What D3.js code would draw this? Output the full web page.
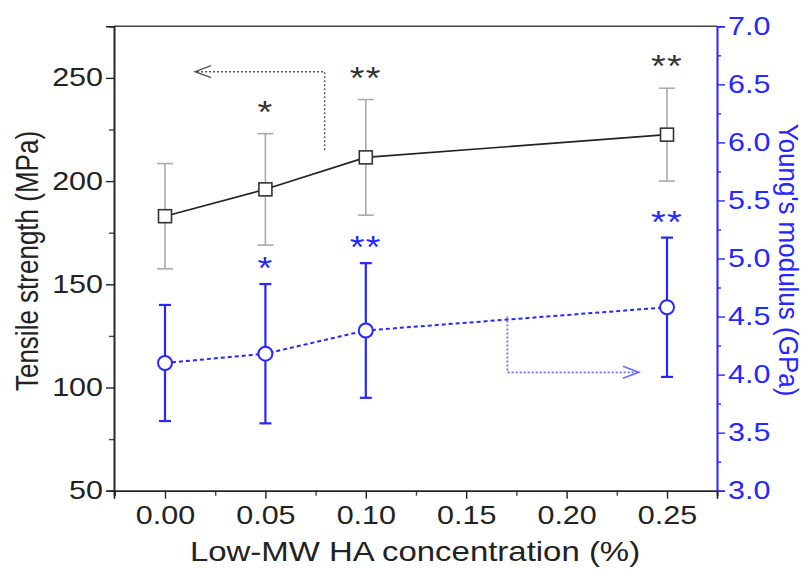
<!DOCTYPE html>
<html lang="en">
<head>
    <meta charset="UTF-8">
    <title>Tensile strength and Young's modulus</title>
    <script src="https://d3js.org/d3.v7.min.js"></script>
    <style>
        body { margin: 0; background: #fff; font-family: "Liberation Sans", Arial, sans-serif; }
        svg text { font-family: "Liberation Sans", Arial, sans-serif; }
    </style>
</head>
<body>
<div id="chart"></div>
<script>
    // data
    const conc = [0.00, 0.05, 0.10, 0.25];
    const strength = [183, 196, 211.5, 222.5];
    const strengthErr = [25.5, 27, 28, 22.5];
    const modulus = [4.10, 4.18, 4.38, 4.58];
    const modulusErr = [0.50, 0.60, 0.58, 0.60];
    const strengthStars = ["", "*", "**", "**"];
    const modulusStars = ["", "*", "**", "**"];

    const xTicks = [0.00, 0.05, 0.10, 0.15, 0.20, 0.25];
    const yTicks = [50, 100, 150, 200, 250];
    const y2Ticks = [3.0, 3.5, 4.0, 4.5, 5.0, 5.5, 6.0, 6.5, 7.0];

    const W = 803, H = 569;
    const blue = "#2626ff";
    const SX = 1.22; // the original text is a little wider than it is tall

    const svg = d3.select("#chart").append("svg")
        .attr("width", W).attr("height", H);

    // scales
    const x = d3.scaleLinear().domain([-0.0254, 0.2749]).range([114, 717]);
    const y = d3.scaleLinear().domain([50, 275]).range([490.7, 26.3]);
    const y2 = d3.scaleLinear().domain([3, 7]).range([490.7, 26.3]);

    function styleAxis(g, color, fs) {
        g.selectAll("path").attr("stroke", color).attr("stroke-width", 1.6);
        g.selectAll("line").attr("stroke", color).attr("stroke-width", 1.4);
        g.selectAll("text").attr("fill", color).style("font-size", fs + "px")
            .attr("x", function() { return (+this.getAttribute("x") || 0) / SX; })
            .attr("transform", `scale(${SX},1)`);
    }

    // top frame line
    svg.append("line")
        .attr("x1", 114).attr("x2", 717).attr("y1", y.range()[1]).attr("y2", y.range()[1])
        .attr("stroke", "#444").attr("stroke-width", 1.6);

    // axes (minor + major)
    const gx = svg.append("g").attr("transform", `translate(0,${y.range()[0]})`);
    gx.append("g").call(d3.axisBottom(x).tickValues(d3.range(-0.025, 0.28, 0.05)).tickSize(5).tickFormat(""))
        .call(g => styleAxis(g, "#444", 20));
    gx.append("g").call(d3.axisBottom(x).tickValues(xTicks).tickSize(8).tickPadding(8).tickFormat(d3.format(".2f")))
        .call(g => styleAxis(g, "#222", 25));

    const gy = svg.append("g").attr("transform", `translate(114,0)`);
    gy.append("g").call(d3.axisLeft(y).tickValues([75, 125, 175, 225, 275]).tickSize(5).tickFormat(""))
        .call(g => styleAxis(g, "#444", 20));
    gy.append("g").call(d3.axisLeft(y).tickValues(yTicks).tickSize(8).tickPadding(3).tickFormat(d3.format("d")))
        .call(g => styleAxis(g, "#222", 25));

    const gy2 = svg.append("g").attr("transform", `translate(717,0)`);
    gy2.append("g").call(d3.axisRight(y2).tickValues(d3.range(3.25, 7, 0.5)).tickSize(4).tickFormat(""))
        .call(g => styleAxis(g, blue, 20));
    gy2.append("g").call(d3.axisRight(y2).tickValues(y2Ticks).tickSize(8).tickPadding(3).tickFormat(d3.format(".1f")))
        .call(g => styleAxis(g, blue, 25));

    // axis titles
    svg.append("text")
        .attr("transform", `translate(415,561) scale(${SX},1)`).attr("text-anchor", "middle")
        .style("font-size", "27px").attr("fill", "#222")
        .text("Low-MW HA concentration (%)");
    svg.append("text")
        .attr("transform", `translate(38,261) scale(${SX},1) rotate(-90)`).attr("text-anchor", "middle")
        .style("font-size", "26px").attr("fill", "#222")
        .text("Tensile strength (MPa)");
    svg.append("text")
        .attr("transform", `translate(779,260) scale(1.05,1) rotate(90)`).attr("text-anchor", "middle")
        .style("font-size", "26px").attr("fill", blue)
        .text("Young's modulus (GPa)");

    // black series: tensile strength
    const sIdx = d3.range(conc.length);
    const capB = 8;
    const errB = svg.append("g").attr("stroke", "#aaa").attr("stroke-width", 1.6);
    sIdx.forEach(i => {
        const cx = x(conc[i]);
        const yt = y(strength[i] + strengthErr[i]), yb = y(strength[i] - strengthErr[i]);
        errB.append("line").attr("x1", cx).attr("x2", cx).attr("y1", yt).attr("y2", yb);
        errB.append("line").attr("x1", cx - capB).attr("x2", cx + capB).attr("y1", yt).attr("y2", yt);
        errB.append("line").attr("x1", cx - capB).attr("x2", cx + capB).attr("y1", yb).attr("y2", yb);
    });
    svg.append("path")
        .datum(sIdx)
        .attr("fill", "none").attr("stroke", "#222").attr("stroke-width", 1.6)
        .attr("d", d3.line().x(i => x(conc[i])).y(i => y(strength[i])));
    svg.selectAll("rect.sq").data(sIdx).enter().append("rect")
        .attr("class", "sq")
        .attr("x", i => x(conc[i]) - 6.5).attr("y", i => y(strength[i]) - 6.5)
        .attr("width", 13).attr("height", 13)
        .attr("fill", "#fff").attr("stroke", "#333").attr("stroke-width", 1.6);

    // blue series: Young's modulus
    const capU = 6;
    const errU = svg.append("g").attr("stroke", blue).attr("stroke-width", 2.2);
    sIdx.forEach(i => {
        const cx = x(conc[i]);
        const yt = y2(modulus[i] + modulusErr[i]), yb = y2(modulus[i] - modulusErr[i]);
        errU.append("line").attr("x1", cx).attr("x2", cx).attr("y1", yt).attr("y2", yb);
        errU.append("line").attr("x1", cx - capU).attr("x2", cx + capU).attr("y1", yt).attr("y2", yt);
        errU.append("line").attr("x1", cx - capU).attr("x2", cx + capU).attr("y1", yb).attr("y2", yb);
    });
    svg.append("path")
        .datum(sIdx)
        .attr("fill", "none").attr("stroke", blue).attr("stroke-width", 2)
        .attr("stroke-dasharray", "4,3")
        .attr("d", d3.line().x(i => x(conc[i])).y(i => y2(modulus[i])));
    svg.selectAll("circle.ci").data(sIdx).enter().append("circle")
        .attr("class", "ci")
        .attr("cx", i => x(conc[i])).attr("cy", i => y2(modulus[i]))
        .attr("r", 7)
        .attr("fill", "#fff").attr("stroke", blue).attr("stroke-width", 2);

    // significance stars
    svg.selectAll("text.sb").data(sIdx).enter().append("text")
        .attr("class", "sb")
        .attr("transform", i => `translate(${x(conc[i])},${y(strength[i] + strengthErr[i]) - 11}) scale(${SX},1)`)
        .attr("text-anchor", "middle").style("font-size", "31px").attr("fill", "#333")
        .style("letter-spacing", "1px")
        .text(i => strengthStars[i]);
    svg.selectAll("text.su").data(sIdx).enter().append("text")
        .attr("class", "su")
        .attr("transform", i => `translate(${x(conc[i])},${y2(modulus[i] + modulusErr[i]) - 5}) scale(${SX},1)`)
        .attr("text-anchor", "middle").style("font-size", "31px").attr("fill", blue)
        .style("letter-spacing", "1px")
        .text(i => modulusStars[i]);

    // dotted axis-pointer arrows
    const arrowB = [[0.0795, 215], [0.0795, 253], [0.015, 253]];
    const arrowU = [[0.1705, 4.5], [0.1705, 4.02], [0.236, 4.02]];
    svg.append("path")
        .attr("fill", "none").attr("stroke", "#555").attr("stroke-width", 1.4)
        .attr("stroke-dasharray", "2,2")
        .attr("d", d3.line()(arrowB.map(p => [x(p[0]), y(p[1])])));
    const ab = [x(arrowB[2][0]), y(arrowB[2][1])];
    svg.append("path")
        .attr("fill", "none").attr("stroke", "#555").attr("stroke-width", 1.4)
        .attr("d", `M${ab[0] + 16},${ab[1] - 6}L${ab[0]},${ab[1]}L${ab[0] + 16},${ab[1] + 6}`);
    svg.append("path")
        .attr("fill", "none").attr("stroke", "#6a6aff").attr("stroke-width", 1.8)
        .attr("stroke-dasharray", "2,2")
        .attr("d", d3.line()(arrowU.map(p => [x(p[0]), y2(p[1])])));
    const au = [x(arrowU[2][0]), y2(arrowU[2][1])];
    svg.append("path")
        .attr("fill", "none").attr("stroke", "#6a6aff").attr("stroke-width", 1.6)
        .attr("d", `M${au[0] - 16},${au[1] - 6}L${au[0]},${au[1]}L${au[0] - 16},${au[1] + 6}`);
</script>
</body>
</html>
